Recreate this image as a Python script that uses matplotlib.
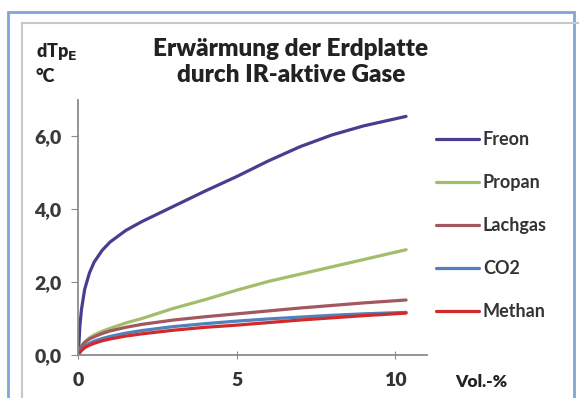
import matplotlib
matplotlib.use('Agg')
import matplotlib.pyplot as plt
from matplotlib.patches import Rectangle

plt.rcParams['font.family'] = ['Lato', 'DejaVu Sans']
plt.rcParams['font.weight'] = 'bold'

# Vol.-% (x) and warming in degC for each gas
vol = [0, 0.05, 0.1, 0.2, 0.35, 0.5, 0.75, 1, 1.5, 2, 3, 4, 5, 6, 7, 8, 9, 10.34]
freon = [0, 0.8, 1.25, 1.8, 2.25, 2.55, 2.87, 3.1, 3.42, 3.66, 4.08, 4.5, 4.9, 5.33, 5.72, 6.04, 6.29, 6.55]
propan = [0, 0.15, 0.24, 0.36, 0.47, 0.55, 0.65, 0.73, 0.88, 1.0, 1.28, 1.52, 1.78, 2.02, 2.22, 2.42, 2.62, 2.89]
lachgas = [0, 0.15, 0.24, 0.34, 0.44, 0.5, 0.59, 0.66, 0.76, 0.84, 0.96, 1.05, 1.13, 1.21, 1.29, 1.36, 1.43, 1.51]
co2 = [0, 0.1, 0.16, 0.24, 0.32, 0.38, 0.45, 0.51, 0.6, 0.67, 0.78, 0.86, 0.93, 0.99, 1.04, 1.09, 1.13, 1.17]
methan = [0, 0.07, 0.12, 0.2, 0.27, 0.32, 0.39, 0.44, 0.52, 0.58, 0.68, 0.76, 0.82, 0.89, 0.96, 1.02, 1.08, 1.15]

names = ['Freon', 'Propan', 'Lachgas', 'CO2', 'Methan']
series = [freon, propan, lachgas, co2, methan]
colors = ['#4a3d8f', '#a3bd6a', '#a2585e', '#5181bd', '#d22a2a']

yticks = [0, 2, 4, 6]
ytick_labels = ['0,0', '2,0', '4,0', '6,0']
xticks = [0, 5, 10]

fig = plt.figure(figsize=(5.79, 3.98), dpi=100)

# outer blue frame and inner grey frame of the slide
fig.patches.append(Rectangle((8/579, -0.05), 566/579, 1 - 12/398 + 0.05,
                             transform=fig.transFigure, fill=False,
                             edgecolor='#7fa6d4', lw=2.0))
fig.patches.append(Rectangle((22/579, -0.05), 560/579, 1 - 23/398 + 0.05,
                             transform=fig.transFigure, fill=False,
                             edgecolor='#c8c8c8', lw=1.5))

ax = fig.add_axes([78.3/579, 1 - 355/398, 348.7/579, 255/398])

handles = []
for name, vals, c in zip(names, series, colors):
    h, = ax.plot(vol, vals, color=c, lw=2.3, label=name, solid_capstyle='round')
    handles.append(h)

ax.set_xlim(0, 11.0)
ax.set_ylim(0, 7.0)
ax.set_yticks(yticks)
ax.set_yticklabels(ytick_labels)
ax.set_xticks(xticks)
for s in ['top', 'right']:
    ax.spines[s].set_visible(False)
for s in ['left', 'bottom']:
    ax.spines[s].set_color('#8c8c8c')
    ax.spines[s].set_linewidth(1.3)
ax.tick_params(axis='y', direction='out', length=5, color='#8c8c8c',
               labelsize=14, labelcolor='#3a3a3a', pad=7)
ax.tick_params(axis='x', direction='inout', length=6, color='#8c8c8c',
               labelsize=14, labelcolor='#333333', pad=9)
for lab in ax.get_xticklabels() + ax.get_yticklabels():
    lab.set_fontweight('heavy')

fig.text(291/579, 1 - 49/398, 'Erwärmung der Erdplatte', ha='center', va='center',
         fontsize=17.5, fontweight='heavy', color='#222222')
fig.text(291/579, 1 - 75/398, 'durch IR-aktive Gase', ha='center', va='center',
         fontsize=17.5, fontweight='heavy', color='#222222')
fig.text(36/579, 1 - 52/398, r'dTp$_\mathbf{E}$', ha='left', va='center',
         fontsize=13, fontweight='heavy', color='#222222')
fig.text(36/579, 1 - 76/398, '°C', ha='left', va='center',
         fontsize=13, fontweight='heavy', color='#222222')
fig.text(455/579, 1 - 382/398, 'Vol.-%', ha='left', va='center',
         fontsize=12.5, fontweight='heavy', color='#222222')

leg = fig.legend(handles=handles, loc='upper left',
                 bbox_to_anchor=(436/579, 1 - 131/398), frameon=False,
                 fontsize=13, handlelength=2.4, handletextpad=0.2,
                 labelspacing=1.44, borderaxespad=0, borderpad=0)
for t in leg.get_texts():
    t.set_color('#333333')
    t.set_fontweight('bold')

fig.savefig('out.png', dpi=100)
